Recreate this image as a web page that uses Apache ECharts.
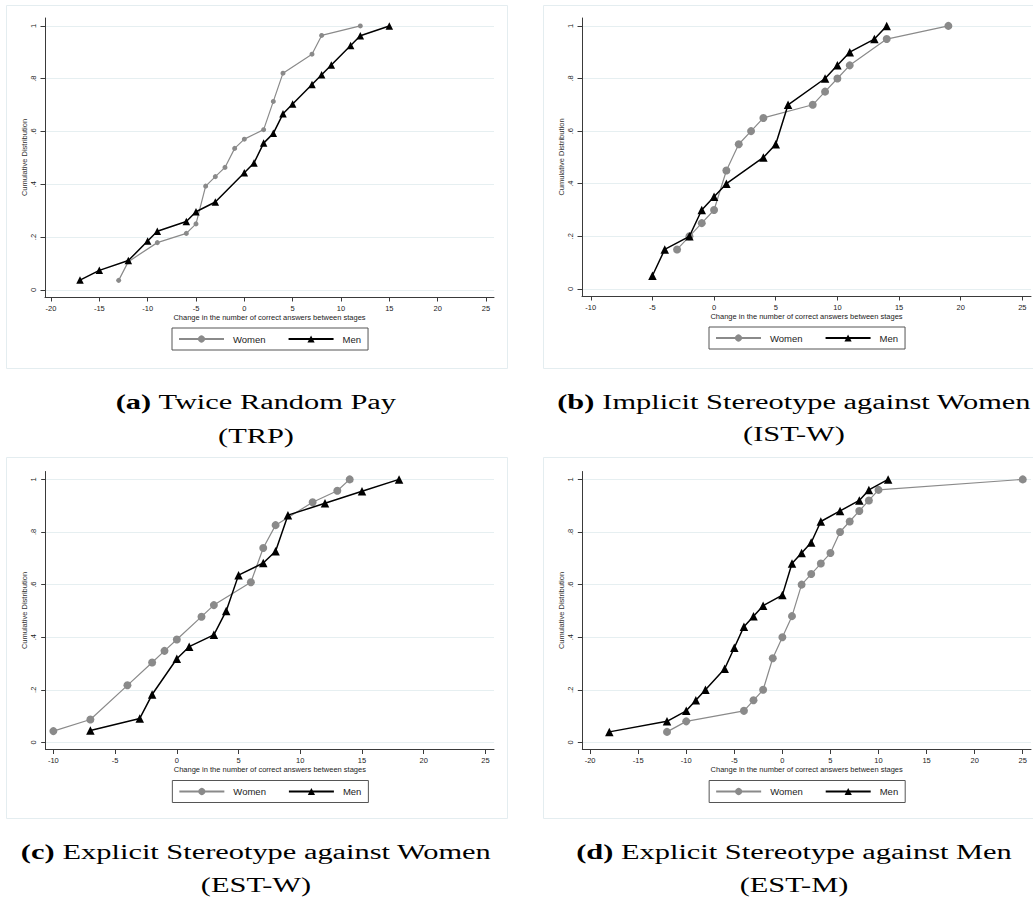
<!DOCTYPE html>
<html>
<head>
<meta charset="utf-8">
<script src="https://cdn.jsdelivr.net/npm/echarts@6/dist/echarts.min.js"></script>
<style>
html,body{margin:0;padding:0;background:#fff;}
#c{width:1033px;height:905px;}
</style>
</head>
<body>
<div id="c"></div>
<script>
// ---------- data ----------
const xTicksWide = [-20, -15, -10, -5, 0, 5, 10, 15, 20, 25];
const xTicksNarrow = [-10, -5, 0, 5, 10, 15, 20, 25];
const yTicks = [0, 0.2, 0.4, 0.6, 0.8, 1];
const yTickLabels = ['0', '.2', '.4', '.6', '.8', '1'];
const seriesNames = ['Women', 'Men'];
const xTitle = 'Change in the number of correct answers between stages';
const yTitle = 'Cumulative Distribution';

// (a) Twice Random Pay
const trpWomenX = [-13, -12, -9, -6, -5, -4, -3, -2, -1, 0, 2, 3, 4, 7, 8, 12];
const trpWomenY = [0.036, 0.107, 0.179, 0.214, 0.25, 0.393, 0.429, 0.464, 0.536, 0.571, 0.607, 0.714, 0.821, 0.893, 0.964, 1];
const trpMenX = [-17, -15, -12, -10, -9, -6, -5, -3, 0, 1, 2, 3, 4, 5, 7, 8, 9, 11, 12, 15];
const trpMenY = [0.037, 0.074, 0.111, 0.185, 0.222, 0.259, 0.296, 0.333, 0.444, 0.481, 0.556, 0.593, 0.667, 0.704, 0.778, 0.815, 0.852, 0.926, 0.963, 1];

// (b) Implicit Stereotype against Women
const istwWomenX = [-3, -2, -1, 0, 1, 2, 3, 4, 8, 9, 10, 11, 14, 19];
const istwWomenY = [0.15, 0.2, 0.25, 0.3, 0.45, 0.55, 0.6, 0.65, 0.7, 0.75, 0.8, 0.85, 0.95, 1];
const istwMenX = [-5, -4, -2, -1, 0, 1, 4, 5, 6, 9, 10, 11, 13, 14];
const istwMenY = [0.05, 0.15, 0.2, 0.3, 0.35, 0.4, 0.5, 0.55, 0.7, 0.8, 0.85, 0.9, 0.95, 1];

// (c) Explicit Stereotype against Women
const estwWomenX = [-10, -7, -4, -2, -1, 0, 2, 3, 6, 7, 8, 11, 13, 14];
const estwWomenY = [0.043, 0.087, 0.217, 0.304, 0.348, 0.391, 0.478, 0.522, 0.609, 0.739, 0.826, 0.913, 0.957, 1];
const estwMenX = [-7, -3, -2, 0, 1, 3, 4, 5, 7, 8, 9, 12, 15, 18];
const estwMenY = [0.045, 0.091, 0.182, 0.318, 0.364, 0.409, 0.5, 0.636, 0.682, 0.727, 0.864, 0.909, 0.955, 1];

// (d) Explicit Stereotype against Men
const estmWomenX = [-12, -10, -4, -3, -2, -1, 0, 1, 2, 3, 4, 5, 6, 7, 8, 9, 10, 25];
const estmWomenY = [0.04, 0.08, 0.12, 0.16, 0.2, 0.32, 0.4, 0.48, 0.6, 0.64, 0.68, 0.72, 0.8, 0.84, 0.88, 0.92, 0.96, 1];
const estmMenX = [-18, -12, -10, -9, -8, -6, -5, -4, -3, -2, 0, 1, 2, 3, 4, 6, 8, 9, 11];
const estmMenY = [0.04, 0.08, 0.12, 0.16, 0.2, 0.28, 0.36, 0.44, 0.48, 0.52, 0.56, 0.68, 0.72, 0.76, 0.84, 0.88, 0.92, 0.96, 1];

const captions = [
  ['(a)', ' Twice Random Pay', '(TRP)'],
  ['(b)', ' Implicit Stereotype against Women', '(IST-W)'],
  ['(c)', ' Explicit Stereotype against Women', '(EST-W)'],
  ['(d)', ' Explicit Stereotype against Men', '(EST-M)']
];

// ---------- layout (styling only) ----------
const panels = [
  { left: 45, top: 18, width: 449, height: 279, xmin: -20.62, xmax: 25.83, ticks: xTicksWide,
    women: [trpWomenX, trpWomenY], men: [trpMenX, trpMenY], wSize: 5, mSize: 7.5,
    box: [6, 5, 501, 363], capX: 256, capY: [402, 436] },
  { left: 582, top: 18, width: 449, height: 278, xmin: -10.71, xmax: 25.7, ticks: xTicksNarrow,
    women: [istwWomenX, istwWomenY], men: [istwMenX, istwMenY], wSize: 8, mSize: 8.5,
    box: [543, 5, 520, 363], capX: 794, capY: [402, 434] },
  { left: 45.7, top: 471.5, width: 448.3, height: 278, xmin: -10.62, xmax: 25.69, ticks: xTicksNarrow,
    women: [estwWomenX, estwWomenY], men: [estwMenX, estwMenY], wSize: 8, mSize: 8.5,
    box: [6, 457, 501, 361], capX: 256, capY: [852, 885] },
  { left: 582.3, top: 471.5, width: 448.7, height: 278, xmin: -20.81, xmax: 25.86, ticks: xTicksWide,
    women: [estmWomenX, estmWomenY], men: [estmMenX, estmMenY], wSize: 8, mSize: 8.5,
    box: [543, 457, 520, 361], capX: 794, capY: [852, 885] }
];

const FONT = 'Liberation Sans, Arial, sans-serif';
const SERIF = 'Liberation Serif, Times New Roman, serif';
const AX = '#3a3a3a';
const CAP_SIZE = 20;
const CAP_STRETCH = 1.52;

const chart = echarts.init(document.getElementById('c'), null, { renderer: 'svg', width: 1033, height: 905 });

const grid = [], xAxis = [], yAxis = [], series = [], legend = [], graphic = [];

panels.forEach((p, i) => {
  graphic.push({ type: 'rect', silent: true, z: -10,
    shape: { x: p.box[0] + 0.5, y: p.box[1] + 0.5, width: p.box[2], height: p.box[3] },
    style: { fill: '#fff', stroke: '#e4edf0', lineWidth: 1 } });

  grid.push({ left: p.left, top: p.top, width: p.width, height: p.height, containLabel: false });

  xAxis.push({
    type: 'value', gridIndex: i, min: p.xmin, max: p.xmax,
    name: xTitle, nameLocation: 'middle', nameGap: 16,
    nameTextStyle: { fontFamily: FONT, fontSize: 7.5, color: '#222' },
    axisLine: { show: true, onZero: false, lineStyle: { color: AX, width: 1 } },
    axisTick: { show: true, length: 4.5, customValues: p.ticks, lineStyle: { color: AX } },
    axisLabel: { customValues: p.ticks, fontFamily: FONT, fontSize: 7.5, color: '#222', margin: 7,
      showMinLabel: true, showMaxLabel: true },
    splitLine: { show: false }
  });

  yAxis.push({
    type: 'value', gridIndex: i, min: -0.027, max: 1.03,
    name: yTitle, nameLocation: 'middle', nameGap: 16, nameRotate: 90,
    nameTextStyle: { fontFamily: FONT, fontSize: 7.5, color: '#333' },
    axisLine: { show: true, onZero: false, lineStyle: { color: AX, width: 1 } },
    axisTick: { show: true, length: 4.5, customValues: yTicks, lineStyle: { color: AX } },
    axisLabel: { customValues: yTicks, rotate: 90, fontFamily: FONT, fontSize: 7.5, color: '#222', margin: 8,
      formatter: v => { const k = yTicks.findIndex(t => Math.abs(t - v) < 1e-6); return k >= 0 ? yTickLabels[k] : ''; } },
    splitLine: { show: true, lineStyle: { color: '#e6eff1', width: 1 } }
  });

  const zip = (xs, ys) => xs.map((x, k) => [x, ys[k]]);

  series.push({
    name: seriesNames[0], type: 'line', xAxisIndex: i, yAxisIndex: i,
    data: zip(p.women[0], p.women[1]),
    symbol: 'circle', symbolSize: p.wSize, showAllSymbol: true,
    lineStyle: { color: '#8a8a8a', width: 1.2 }, itemStyle: { color: '#8a8a8a' },
    z: 2, animation: false, silent: true
  });
  series.push({
    name: seriesNames[1], type: 'line', xAxisIndex: i, yAxisIndex: i,
    data: zip(p.men[0], p.men[1]),
    symbol: 'triangle', symbolSize: p.mSize, showAllSymbol: true,
    lineStyle: { color: '#000', width: 1.5 }, itemStyle: { color: '#000' },
    z: 3, animation: false, silent: true
  });

  const cx = p.left + p.width / 2;
  legend.push({
    data: seriesNames, left: cx - 97.5, top: p.top + p.height + 31, orient: 'horizontal',
    itemWidth: 45, itemHeight: 9, itemGap: 22, selectedMode: false,
    borderColor: '#555', borderWidth: 1, padding: [6, 7, 6, 6], backgroundColor: '#fff',
    textStyle: { fontFamily: FONT, fontSize: 9.5, color: '#222', padding: [0, 0, 0, 4] }
  });

  const c = captions[i];
  graphic.push({ type: 'text', silent: true, x: p.capX, y: p.capY[0], scaleX: CAP_STRETCH,
    style: { text: '{b|' + c[0] + '}{n|' + c[1] + '}', align: 'center', verticalAlign: 'middle',
      rich: { b: { fontFamily: SERIF, fontSize: CAP_SIZE, fontWeight: 'bold', fill: '#000' },
              n: { fontFamily: SERIF, fontSize: CAP_SIZE, fill: '#000' } } } });
  graphic.push({ type: 'text', silent: true, x: p.capX, y: p.capY[1], scaleX: CAP_STRETCH,
    style: { text: c[2], align: 'center', verticalAlign: 'middle', fontFamily: SERIF, fontSize: CAP_SIZE, fill: '#000' } });
});

chart.setOption({
  animation: false,
  backgroundColor: '#fff',
  grid, xAxis, yAxis, series, legend, graphic
});
</script>
</body>
</html>
